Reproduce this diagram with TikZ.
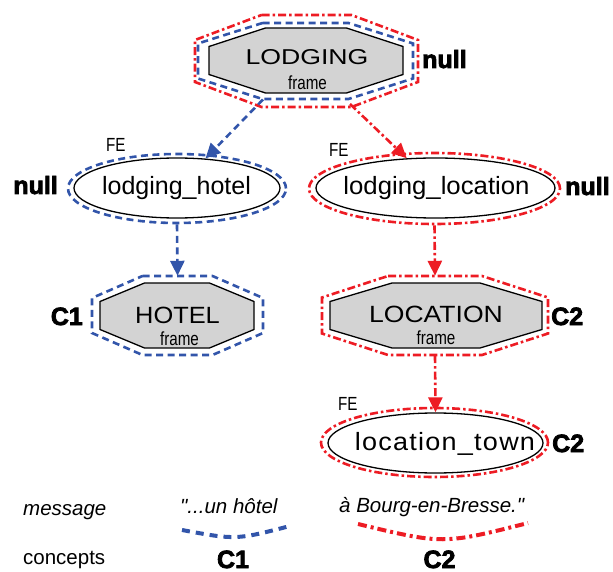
\documentclass[tikz,border=0pt]{standalone}
\usepackage{fontspec}
\setmainfont{Liberation Sans}
\newfontfamily\msgf{Liberation Sans}
\newfontfamily\narrowf{Liberation Sans}[FakeStretch=0.8]
\newfontfamily\heavyf{Liberation Sans Bold}[FakeBold=3]
\usetikzlibrary{shapes.geometric,arrows.meta}
\definecolor{cblue}{RGB}{50,85,170}
\definecolor{cred}{RGB}{237,28,36}
\definecolor{cgray}{RGB}{211,211,211}
% style, cx, cy, w, h, a, b
\newcommand\octo[7]{%
  \draw[#1] ({#2-#6},{#3-#5}) -- ({#2+#6},{#3-#5}) -- ({#2+#4},{#3-#7}) -- ({#2+#4},{#3+#7})
   -- ({#2+#6},{#3+#5}) -- ({#2-#6},{#3+#5}) -- ({#2-#4},{#3+#7}) -- ({#2-#4},{#3-#7}) -- cycle;}
\begin{document}
\begin{tikzpicture}[x=1pt,y=-1pt,
  bl/.style={draw=cblue,line width=2.6pt,dash pattern=on 7pt off 4.5pt},
  rd/.style={draw=cred,line width=2.6pt,dash pattern=on 8pt off 3pt on 2.5pt off 3pt},
  frm/.style={draw=black,line width=1.3pt,fill=cgray,line join=miter},
  ell/.style={ellipse,draw=black,line width=1.3pt,fill=white,inner sep=0pt},
  oell/.style={ellipse,inner sep=0pt},
  box/.style={rectangle,draw=none,inner sep=0pt},
  tip/.style={-{Triangle[width=14pt,length=15pt]}},
  big/.style={anchor=base,inner sep=0pt,font=\fontsize{25}{28}\selectfont},
  txt/.style={anchor=base,inner sep=0pt},
  fe/.style={anchor=base west,inner sep=0pt,font=\narrowf\fontsize{19}{22}\selectfont},
  fr/.style={anchor=base,inner sep=0pt,font=\narrowf\fontsize{19}{22}\selectfont},
  hv/.style={inner sep=0pt,font=\heavyf\fontsize{25}{28}\selectfont},
  msg/.style={anchor=base west,inner sep=0pt,font=\msgf\itshape\fontsize{20.5}{24}\selectfont},
]
\useasboundingbox (0,0) rectangle (613,572);

% ---------- LODGING frame ----------
\octo{rd}{306.5}{61}{111.5}{46}{45}{21}
\octo{bl}{305.5}{61}{107.5}{38}{43}{17.5}
\octo{frm}{306}{60.5}{97}{32.5}{40.5}{14}
\node[box,minimum width=194,minimum height=65] (lod) at (306,60.5) {};
\node[txt,font=\fontsize{21.5}{25}\selectfont\addfontfeature{FakeStretch=1.24}] (lodT) at (307,65) {LODGING};
\node[fr] (lodF) at (307.5,90) {frame};
\node[hv,anchor=base west] (n1) at (422,68) {null};
\coordinate (lodBl) at (263,99.5);
\coordinate (lodRd) at (350,104);

% ---------- lodging_hotel ----------
\node[oell,bl,minimum width=218,minimum height=69] (lhB) at (177,188.5) {};
\node[ell,minimum width=206,minimum height=60] (lh) at (177,188) {};
\node[big] (lhT) at (176.5,195) {lodging\_hotel};
\node[fe] (fe1) at (106,152) {FE};
\node[hv,anchor=base east] (n2) at (58,194) {null};

% ---------- lodging_location ----------
\node[oell,rd,minimum width=251,minimum height=71] (llR) at (434.5,188.5) {};
\node[ell,minimum width=239,minimum height=60] (ll) at (435.5,188) {};
\node[big,font=\fontsize{25}{28}\selectfont\addfontfeature{FakeStretch=1.03}] (llT) at (436.5,195) {lodging\_location};
\node[fe] (fe2) at (329,157) {FE};
\node[hv,anchor=base west] (n3) at (565,195) {null};

% ---------- HOTEL frame ----------
\octo{bl}{177.5}{315.5}{85.5}{39.5}{35}{17.5}
\octo{frm}{177}{315.5}{77}{32.5}{32.5}{14}
\node[box,minimum width=171,minimum height=79] (hotB) at (177.5,315.5) {};
\node[txt,font=\fontsize{23.5}{27}\selectfont\addfontfeature{FakeStretch=1.08}] (hotT) at (177.5,323) {HOTEL};
\node[fr] (hotF) at (179.5,345) {frame};
\node[hv,anchor=base east] (c1a) at (83,325) {C1};

% ---------- LOCATION frame ----------
\octo{rd}{435}{315.5}{113}{39.5}{47}{18}
\octo{frm}{436}{315.5}{106}{32.5}{44}{14}
\node[box,minimum width=226,minimum height=79] (locR) at (435,315.5) {};
\node[txt,font=\fontsize{23.5}{27}\selectfont\addfontfeature{FakeStretch=1.13}] (locT) at (436,322) {LOCATION};
\node[fr] (locF) at (436,344) {frame};
\node[hv,anchor=base west] (c2a) at (551,325) {C2};

% ---------- location_town ----------
\node[oell,rd,minimum width=227,minimum height=69] (ltR) at (434.5,442.5) {};
\node[ell,minimum width=215,minimum height=60] (lt) at (435.5,443) {};
\node[big,font=\fontsize{25}{28}\selectfont\addfontfeature{LetterSpace=5,FakeStretch=1.08}] (ltT) at (445,450) {location\_town};
\node[fe] (fe3) at (338,410) {FE};
\node[hv,anchor=base west] (c2b) at (552,452) {C2};

% ---------- connectors ----------
\draw[bl,tip] (lodBl) -- (lh.46);
\draw[rd,tip] (lodRd) -- (ll.134);
\draw[bl,tip] (lhB.south) -- (hotB.north);
\draw[rd,tip] (llR.south) -- (locR.north);
\draw[rd,tip] (locR.south) -- (lt.north);

% ---------- message / concepts ----------
\node[msg] (msg) at (23,515) {message};
\node[msg] (m1) at (180,513) {"...un hôtel};
\node[msg] (m2) at (339,512) {à Bourg-en-Bresse."};
\node[txt,anchor=base west,font=\fontsize{20.5}{24}\selectfont] (conc) at (23,564) {concepts};
\node[hv,anchor=base] (c1b) at (233,568) {C1};
\node[hv,anchor=base] (c2c) at (439.5,568) {C2};
\coordinate (b1s) at (182,530);
\coordinate (b1c) at (236,540);
\coordinate (b1e) at (290,526);
\coordinate (r1s) at (358,524);
\coordinate (r1c) at (443,544.5);
\coordinate (r1e) at (528,523);
\draw[draw=cblue,line width=4pt,dash pattern=on 8pt off 6pt] (b1s) .. controls (b1c) .. (b1e);
\draw[draw=cred,line width=4pt,dash pattern=on 9pt off 4pt on 3pt off 4pt] (r1s) .. controls (r1c) .. (r1e);
\end{tikzpicture}
\end{document}
